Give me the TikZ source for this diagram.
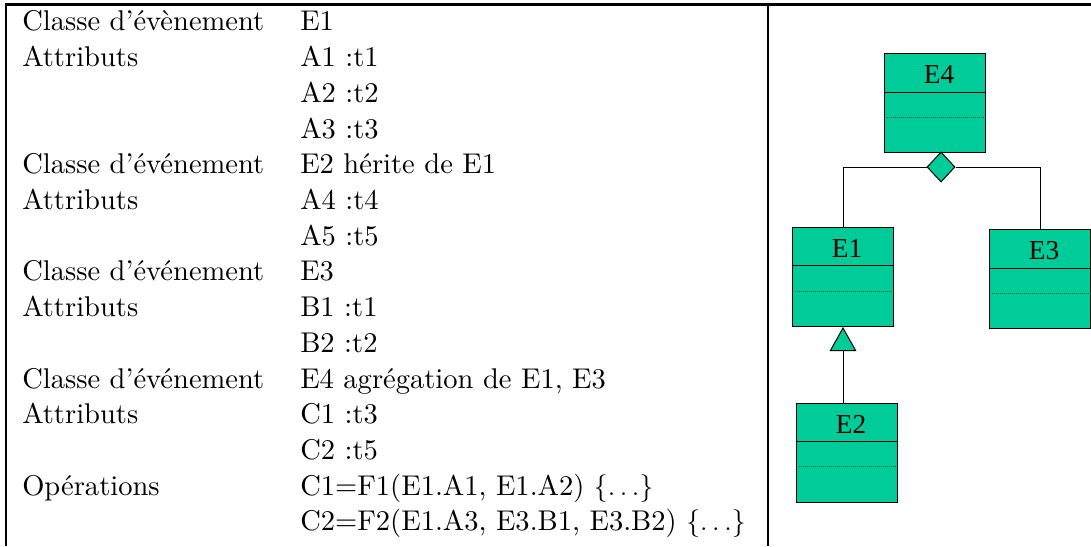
\documentclass[tikz,border=0pt]{standalone}
\usepackage{fontspec}
\newfontfamily\umlfont{Liberation Serif}
\newfontfamily\tabfont{lmroman10-regular.otf}[Ligatures=TeX]
\usetikzlibrary{shapes.geometric,arrows.meta,calc}

\definecolor{umlgreen}{RGB}{0,204,153}
\definecolor{umldot}{RGB}{30,80,65}

\tikzset{
  rowtext/.style={anchor=base west,inner sep=0pt,font=\tabfont\fontsize{21.4}{25}\selectfont},
  rule/.style={line width=2pt},
  classbox/.style={draw=black,fill=umlgreen,anchor=north west,inner sep=0pt,
    minimum width=75.75pt,minimum height=74.25pt,line width=0.75pt},
  classname/.style={inner sep=0pt,font=\umlfont\fontsize{20.5}{24}\selectfont},
  sepline/.style={line width=0.75pt},
  dotline/.style={draw=umldot,line width=0.6pt,dash pattern=on 0.75pt off 0.75pt},
  link/.style={line width=0.75pt},
  aggdiamond/.style={diamond,draw=black,fill=umlgreen,inner sep=0pt,
    minimum width=21pt,minimum height=22.5pt,line width=0.75pt},
}

\begin{document}
\begin{tikzpicture}[x=0.75pt,y=0.75pt,yscale=-1,xscale=1]
\useasboundingbox (0,0) rectangle (1091,546);

% table frame
\coordinate (tl) at (6,4.7);
\coordinate (tr) at (1091,4.7);
\coordinate (bl) at (6,546);
\coordinate (mt) at (768,4.7);
\coordinate (mb) at (768,546);
\draw[rule] (tr) -- (tl) -- (bl);
\draw[rule] (mt) -- (mb);

% left column
\node[rowtext] (lbl1) at (22,31) {Classe d'évènement};
\node[rowtext] (lbl2) at (22,66.7) {Attributs};
\node[rowtext] (lbl5) at (22,173.8) {Classe d'événement};
\node[rowtext] (lbl6) at (22,209.5) {Attributs};
\node[rowtext] (lbl8) at (22,280.9) {Classe d'événement};
\node[rowtext] (lbl9) at (22,316.6) {Attributs};
\node[rowtext] (lbl11) at (22,388) {Classe d'événement};
\node[rowtext] (lbl12) at (22,423.7) {Attributs};
\node[rowtext] (lbl14) at (22,495.1) {Opérations};

% right column
\node[rowtext] (val1) at (300,31) {E1};
\node[rowtext] (val2) at (300,66.7) {A1 :t1};
\node[rowtext] (val3) at (300,102.4) {A2 :t2};
\node[rowtext] (val4) at (300,138.1) {A3 :t3};
\node[rowtext] (val5) at (300,173.8) {E2 hérite de E1};
\node[rowtext] (val6) at (300,209.5) {A4 :t4};
\node[rowtext] (val7) at (300,245.2) {A5 :t5};
\node[rowtext] (val8) at (300,280.9) {E3};
\node[rowtext] (val9) at (300,316.6) {B1 :t1};
\node[rowtext] (val10) at (300,352.3) {B2 :t2};
\node[rowtext] (val11) at (300,388) {E4 agrégation de E1, E3};
\node[rowtext] (val12) at (300,423.7) {C1 :t3};
\node[rowtext] (val13) at (300,459.4) {C2 :t5};
\node[rowtext] (val14) at (300,495.1) {C1=F1(E1.A1, E1.A2) $\{\ldots\}$};
\node[rowtext] (val15) at (300,530.8) {C2=F2(E1.A3, E3.B1, E3.B2) $\{\ldots\}$};

% class boxes
\node[classbox] (e4) at (884,53) {};
\node[classbox] (e1) at (792,227) {};
\node[classbox] (e3) at (989,229) {};
\node[classbox] (e2) at (796,403) {};

\draw[sepline] ($(e4.north west)+(0,39)$) -- ($(e4.north east)+(0,39)$);
\draw[sepline] ($(e1.north west)+(0,38)$) -- ($(e1.north east)+(0,38)$);
\draw[sepline] ($(e3.north west)+(0,39)$) -- ($(e3.north east)+(0,39)$);
\draw[sepline] ($(e2.north west)+(0,38)$) -- ($(e2.north east)+(0,38)$);
\draw[dotline] ($(e4.north west)+(3,64)$) -- ($(e4.north east)+(0,64)$);
\draw[dotline] ($(e1.north west)+(3,64)$) -- ($(e1.north east)+(0,64)$);
\draw[dotline] ($(e3.north west)+(3,64)$) -- ($(e3.north east)+(0,64)$);
\draw[dotline] ($(e2.north west)+(3,63)$) -- ($(e2.north east)+(0,63)$);

\node[classname] (e4name) at ($(e4.north)+(4,22)$) {E4};
\node[classname] (e1name) at ($(e1.north)+(4,21)$) {E1};
\node[classname] (e3name) at ($(e3.north)+(4,22)$) {E3};
\node[classname] (e2name) at ($(e2.north)+(4,21)$) {E2};

% aggregation of E1 and E3 into E4
\node[aggdiamond] (agg) at (941,167) {};
\draw[link] (agg.west) -| (e1.north);
\draw[link] (agg.east) -| (e3.north);

% E2 inherits from E1
\draw[link,-{Triangle[length=18pt,width=20pt,fill=umlgreen]}] (e1.south |- e2.north) -- (e1.south);
\end{tikzpicture}
\end{document}
